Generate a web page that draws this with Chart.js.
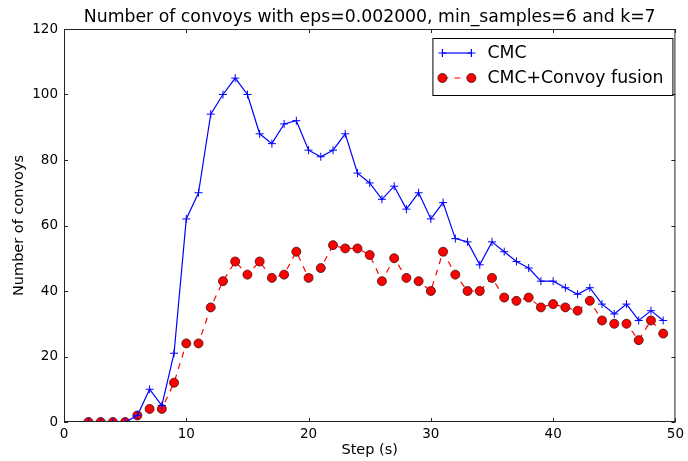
<!DOCTYPE html>
<html>
<head>
<meta charset="utf-8">
<script src="https://cdn.jsdelivr.net/npm/chart.js@4/dist/chart.umd.min.js"></script>
<style>
  html, body { margin: 0; padding: 0; background: #fff; }
  #wrap { width: 688px; height: 461px; }
</style>
</head>
<body>
<div id="wrap"><canvas id="convoyChart" width="688" height="461"></canvas></div>
<script>
// data
const steps = [2,3,4,5,6,7,8,9,10,11,12,13,14,15,16,17,18,19,20,21,22,23,24,25,26,27,28,29,30,31,32,33,34,35,36,37,38,39,40,41,42,43,44,45,46,47,48,49];
const cmc = [0,0,0,0,2,10,5,21,62,70,94,100,105,100,88,85,91,92,83,81,83,88,76,73,68,72,65,70,62,67,56,55,48,55,52,49,47,43,43,41,39,41,36,33,36,31,34,31];
const fusion = [0,0,0,0,2,4,4,12,24,24,35,43,49,45,49,44,45,52,44,47,54,53,53,51,43,50,44,43,40,52,45,40,40,44,38,37,38,35,36,35,34,37,31,30,30,25,31,27];
const xTicks = [0,10,20,30,40,50];
const yTicks = [0,20,40,60,80,100,120];
const chartTitle = 'Number of convoys with eps=0.002000, min_samples=6 and k=7';

const FONT = '"DejaVu Sans", sans-serif';

// matplotlib style: ticks pointing inward on all four sides
const inwardTicks = {
  id: 'inwardTicks',
  afterDraw(chart) {
    const c = chart.ctx, a = chart.chartArea;
    const xs = chart.scales.x, ys = chart.scales.y;
    c.save();
    c.strokeStyle = '#222';
    c.lineWidth = 1;
    c.beginPath();
    xTicks.forEach(v => {
      const px = Math.round(xs.getPixelForValue(v)) + 0.5;
      c.moveTo(px, a.bottom); c.lineTo(px, a.bottom - 4);
      c.moveTo(px, a.top); c.lineTo(px, a.top + 4);
    });
    yTicks.forEach(v => {
      const py = Math.round(ys.getPixelForValue(v)) + 0.5;
      c.moveTo(a.left, py); c.lineTo(a.left + 4, py);
      c.moveTo(a.right, py); c.lineTo(a.right - 4, py);
    });
    c.stroke();
    c.strokeRect(a.left + 0.5, a.top + 0.5, a.right - a.left - 1, a.bottom - a.top - 1);

    // title centred over the plot area
    c.fillStyle = '#000';
    c.font = '17.3px ' + FONT;
    c.textAlign = 'center';
    c.textBaseline = 'middle';
    c.fillText(chartTitle, (a.left + a.right) / 2, 18);
    c.restore();
  }
};

// legend box in the upper right, like matplotlib
const boxLegend = {
  id: 'boxLegend',
  afterDraw(chart) {
    const c = chart.ctx, a = chart.chartArea;
    const w = 240, h = 57;
    const x0 = a.right - 3 - w, y0 = a.top + 9;
    c.save();
    c.fillStyle = '#fff';
    c.fillRect(x0, y0, w, h);
    c.strokeStyle = '#000';
    c.lineWidth = 1;
    c.strokeRect(x0 + 0.5, y0 + 0.5, w, h);
    c.font = '17.3px ' + FONT;
    c.textBaseline = 'middle';
    chart.data.datasets.forEach((ds, i) => {
      const y = y0 + 15 + i * 25;
      const lx1 = x0 + 10, lx2 = x0 + 39;
      c.strokeStyle = ds.borderColor;
      c.lineWidth = ds.borderWidth;
      c.setLineDash(ds.borderDash || []);
      c.beginPath(); c.moveTo(lx1, y); c.lineTo(lx2, y); c.stroke();
      c.setLineDash([]);
      [lx1, lx2].forEach(px => {
        if (ds.pointStyle === 'cross') {
          c.beginPath();
          c.moveTo(px - 4, y); c.lineTo(px + 4, y);
          c.moveTo(px, y - 4); c.lineTo(px, y + 4);
          c.stroke();
        } else {
          c.beginPath();
          c.arc(px, y, 4.5, 0, Math.PI * 2);
          c.fillStyle = ds.pointBackgroundColor;
          c.fill();
          c.strokeStyle = ds.pointBorderColor;
          c.lineWidth = 0.8;
          c.stroke();
        }
      });
      c.fillStyle = '#000';
      c.fillText(ds.label, x0 + 55, y + 1);
    });
    c.restore();
  }
};

new Chart(document.getElementById('convoyChart'), {
  type: 'line',
  data: {
    labels: steps,
    datasets: [
      {
        label: 'CMC',
        data: steps.map((s, i) => ({ x: s, y: cmc[i] })),
        borderColor: '#0000ff',
        borderWidth: 1.2,
        pointStyle: 'cross',
        pointRadius: 4,
        pointBorderColor: '#0000ff',
        pointBorderWidth: 1,
        tension: 0
      },
      {
        label: 'CMC+Convoy fusion',
        data: steps.map((s, i) => ({ x: s, y: fusion[i] })),
        borderColor: '#ff0000',
        borderWidth: 1.2,
        borderDash: [6, 6],
        pointStyle: 'circle',
        pointRadius: 4.5,
        pointBackgroundColor: '#ff0000',
        pointBorderColor: '#3a1010',
        pointBorderWidth: 0.8,
        tension: 0
      }
    ]
  },
  options: {
    responsive: false,
    animation: false,
    layout: { padding: { left: 0, right: 8, top: 29, bottom: 0 } },
    plugins: {
      legend: { display: false },
      tooltip: { enabled: false },
      title: { display: false }
    },
    scales: {
      x: {
        type: 'linear',
        min: 0, max: 50,
        afterFit: s => { s.height = 39; },
        afterBuildTicks: s => { s.ticks = xTicks.map(v => ({ value: v })); },
        grid: { display: false, drawTicks: false },
        border: { display: false },
        ticks: { color: '#000', padding: 4, maxRotation: 0, font: { family: FONT, size: 13.5 } },
        title: { display: true, text: 'Step (s)', color: '#000', padding: { top: 0, bottom: 2 }, font: { family: FONT, size: 14.5 } }
      },
      y: {
        min: 0, max: 120,
        afterFit: s => { s.width = 64; },
        afterBuildTicks: s => { s.ticks = yTicks.map(v => ({ value: v })); },
        grid: { display: false, drawTicks: false },
        border: { display: false },
        ticks: { color: '#000', padding: 6, font: { family: FONT, size: 13.5 } },
        title: { display: true, text: 'Number of convoys', color: '#000', padding: { top: 11, bottom: 0 }, font: { family: FONT, size: 14.5 } }
      }
    }
  },
  plugins: [inwardTicks, boxLegend]
});
</script>
</body>
</html>
